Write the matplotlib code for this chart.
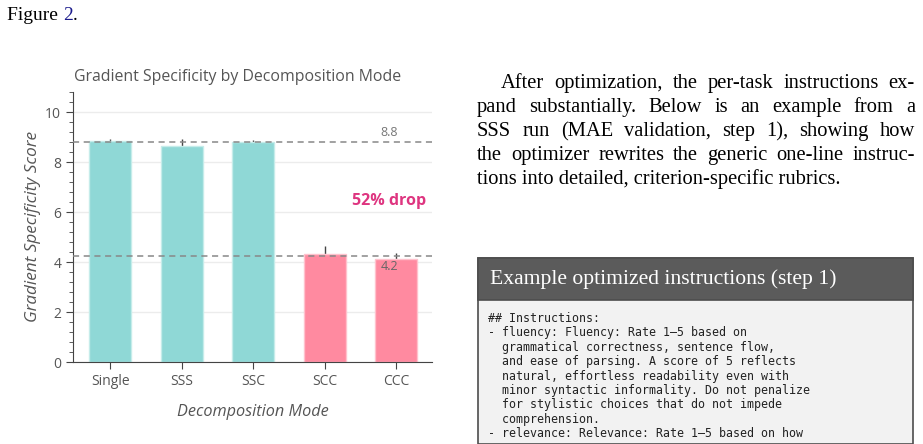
import matplotlib.pyplot as plt
from matplotlib.patches import Rectangle
from matplotlib.ticker import MultipleLocator

# chart data
modes = ['Single', 'SSS', 'SSC', 'SCC', 'CCC']
scores = [8.84, 8.63, 8.79, 4.33, 4.13]
errors = [0.09, 0.29, 0.11, 0.32, 0.24]
groups = ['sep', 'sep', 'sep', 'comb', 'comb']
ref_lines = [8.8, 4.25]
ref_labels = ['8.8', '4.2']

para_lines = [
    'After optimization, the per-task instructions ex-',
    'pand substantially.  Below is an example from a',
    'SSS run (MAE validation, step 1), showing how',
    'the optimizer rewrites the generic one-line instruc-',
    'tions into detailed, criterion-specific rubrics.',
]
code_lines = [
    '## Instructions:',
    '- fluency: Fluency: Rate 1\u20135 based on',
    '  grammatical correctness, sentence flow,',
    '  and ease of parsing. A score of 5 reflects',
    '  natural, effortless readability even with',
    '  minor syntactic informality. Do not penalize',
    '  for stylistic choices that do not impede',
    '  comprehension.',
    '- relevance: Relevance: Rate 1\u20135 based on how',
]

W, H = 923, 444
fig = plt.figure(figsize=(W / 100, H / 100), dpi=100)
fig.patch.set_facecolor('white')

sans = 'Open Sans'
gray = '#555555'
colors = {'sep': '#8fd8d6', 'comb': '#ff8aa0'}
edges = {'sep': '#c5ecea', 'comb': '#ffc2cd'}

ax = fig.add_axes([73 / W, 1 - 362 / H, (432 - 73) / W, (362 - 92) / H])
x = list(range(len(modes)))
ax.errorbar(x, scores, yerr=errors, fmt='none', ecolor='#444444',
            elinewidth=1, capsize=0, zorder=1)
ax.bar(x, scores, width=0.59, color=[colors[g] for g in groups],
       edgecolor=[edges[g] for g in groups], linewidth=1, zorder=2)
for v in ref_lines:
    ax.axhline(v, color='#888888', lw=1.1, dashes=(4, 3), zorder=3)
ax.text(3.9, 9.2, ref_labels[0], ha='center', va='center', color='#777777',
        fontsize=9, family=sans)
ax.text(3.9, 3.82, ref_labels[1], ha='center', va='center', color='#666666',
        fontsize=9, family=sans, zorder=4)
ax.text(3.9, 6.45, '52% drop', ha='center', va='center', color='#de3580',
        fontsize=11.5, fontweight='bold', family=sans)

ax.set_xlim(-0.52, 4.5)
ax.set_ylim(0, 10.8)
ax.set_xticks(x)
ax.set_xticklabels(modes)
ax.yaxis.set_major_locator(MultipleLocator(2))
ax.yaxis.set_minor_locator(MultipleLocator(0.4))
ax.grid(axis='y', color='#ececec', lw=1, zorder=0)
ax.set_axisbelow(True)
for s in ['top', 'right']:
    ax.spines[s].set_visible(False)
for s in ['left', 'bottom']:
    ax.spines[s].set_color('#444444')
ax.tick_params(axis='both', which='major', length=5, color='#444444',
               labelcolor=gray, labelsize=10)
ax.tick_params(axis='y', which='minor', length=3, color='#444444')
for lab in ax.get_xticklabels() + ax.get_yticklabels():
    lab.set_family(sans)
fig.text(238 / W, 1 - 77 / H, 'Gradient Specificity by Decomposition Mode',
         family=sans, fontsize=11.45, color=gray, ha='center', va='center')
ax.set_xlabel('Decomposition Mode', family=sans, style='italic', fontsize=11.7,
              color=gray, labelpad=11)
ax.set_ylabel('Gradient Specificity Score', family=sans, style='italic',
              fontsize=12.3, color=gray, labelpad=3)

# page text around the figure
serif = 'Liberation Serif'
fs = 14.8
fig.text(7 / W, 1 - 20 / H, 'Figure ', family=serif, fontsize=14, va='baseline')
fig.canvas.draw()
r = fig.canvas.get_renderer()
t0 = fig.texts[-1]
bb = t0.get_window_extent(r)
fig.text(bb.x1 / W, 1 - 20 / H, '2', family=serif, fontsize=14, va='baseline',
         color='#1a1a8c')
t2 = fig.texts[-1]
bb2 = t2.get_window_extent(r)
fig.text(bb2.x1 / W, 1 - 20 / H, '.', family=serif, fontsize=14, va='baseline')

left, right = 477, 915
for i, line in enumerate(para_lines):
    yb = 1 - (88 + 24 * i) / H
    start = left + 24 if i == 0 else left
    words = line.split()
    if i == len(para_lines) - 1:
        fig.text(start / W, yb, line, family=serif, fontsize=fs, va='baseline')
        continue
    ts = [fig.text(0, yb, w, family=serif, fontsize=fs, va='baseline')
          for w in words]
    widths = [t.get_window_extent(r).width for t in ts]
    gap = (right - start - sum(widths)) / (len(words) - 1)
    pos = start
    for t, w in zip(ts, widths):
        t.set_x(pos / W)
        pos += w + gap

# instruction box
bx0, bx1, by0 = 478, 913, 258
fig.patches.append(Rectangle((bx0 / W, 0), (bx1 - bx0) / W, 1 - by0 / H,
                             transform=fig.transFigure, facecolor='#f2f2f2',
                             edgecolor='#4d4d4d', lw=1.2))
fig.patches.append(Rectangle((bx0 / W, 1 - 300 / H), (bx1 - bx0) / W, 42 / H,
                             transform=fig.transFigure, facecolor='#5b5b5b',
                             edgecolor='#4d4d4d', lw=1.2))
fig.text(490 / W, 1 - 279 / H, 'Example optimized instructions (step 1)',
         family=serif, fontsize=15.6, color='white', va='center')
for i, line in enumerate(code_lines):
    fig.text(488 / W, 1 - (322 + 14.4 * i) / H, line, family='DejaVu Sans Mono',
             fontsize=8.4, color='#222222', va='baseline')

fig.savefig('out.png', dpi=100)
